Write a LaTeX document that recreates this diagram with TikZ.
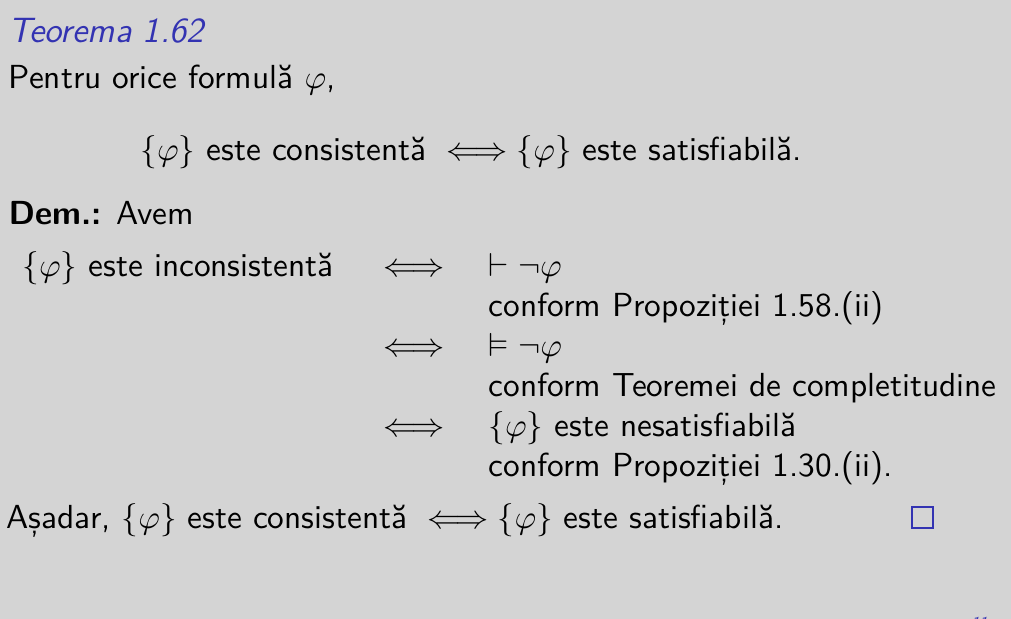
\documentclass[tikz,border=0pt]{standalone}
\usepackage{fontspec}
\usepackage{amssymb}
\usepackage{amsmath}
\definecolor{slidegrey}{RGB}{212,212,212}
\definecolor{structblue}{rgb}{0.2,0.2,0.7}
\setmainfont{Latin Modern Sans}

\begin{document}
\begin{tikzpicture}[x=0.33pt,y=-0.33pt]

%
% Styles
%
\tikzstyle{line}   = [anchor=base west,inner sep=0pt,font=\fontsize{11}{13.6}\selectfont]
\tikzstyle{title}  = [line,text=structblue,font=\fontsize{11.6}{14}\selectfont\itshape]
\tikzstyle{footer} = [anchor=base west,inner sep=0pt,text=structblue,font=\fontsize{5}{6}\selectfont\itshape]

\fill[slidegrey] (0,0) rectangle (1011,619);
\useasboundingbox (0,0) rectangle (1011,619);

\node[title] (thm)   at (8,42)    {Teorema 1.62};
\node[line]  (intro) at (8,88)    {Pentru orice formulă $\varphi$,};
\node[line]  (stmt)  at (140,160) {$\{\varphi\}$ este consistentă~$\;\Longleftrightarrow\{\varphi\}$ este satisfiabilă.};
\node[line]  (dem)   at (8,224)   {\textbf{Dem.:} Avem};

\node[line]  (lhs)   at (22,276)  {$\{\varphi\}$ este inconsistentă};
\node[line]  (eq1)   at (383,276) {$\Longleftrightarrow$};
\node[line]  (r1)    at (488,276) {$\vdash\neg\varphi$};
\node[line]  (c1)    at (488,316) {conform Propoziției 1.58.(ii)};
\node[line]  (eq2)   at (383,356) {$\Longleftrightarrow$};
\node[line]  (r2)    at (488,356) {$\vDash\neg\varphi$};
\node[line]  (c2)    at (488,396) {conform Teoremei de completitudine};
\node[line]  (eq3)   at (383,436) {$\Longleftrightarrow$};
\node[line]  (r3)    at (488,436) {$\{\varphi\}$ este nesatisfiabilă};
\node[line]  (c3)    at (488,476) {conform Propoziției 1.30.(ii).};

\node[line]  (concl) at (6,528)   {Așadar, $\{\varphi\}$ este consistentă~$\;\Longleftrightarrow\{\varphi\}$ este satisfiabilă.};
\draw[structblue,semithick] (912,507) rectangle (933,528);

\node[footer] (page) at (971,627) {11};

\end{tikzpicture}
\end{document}
